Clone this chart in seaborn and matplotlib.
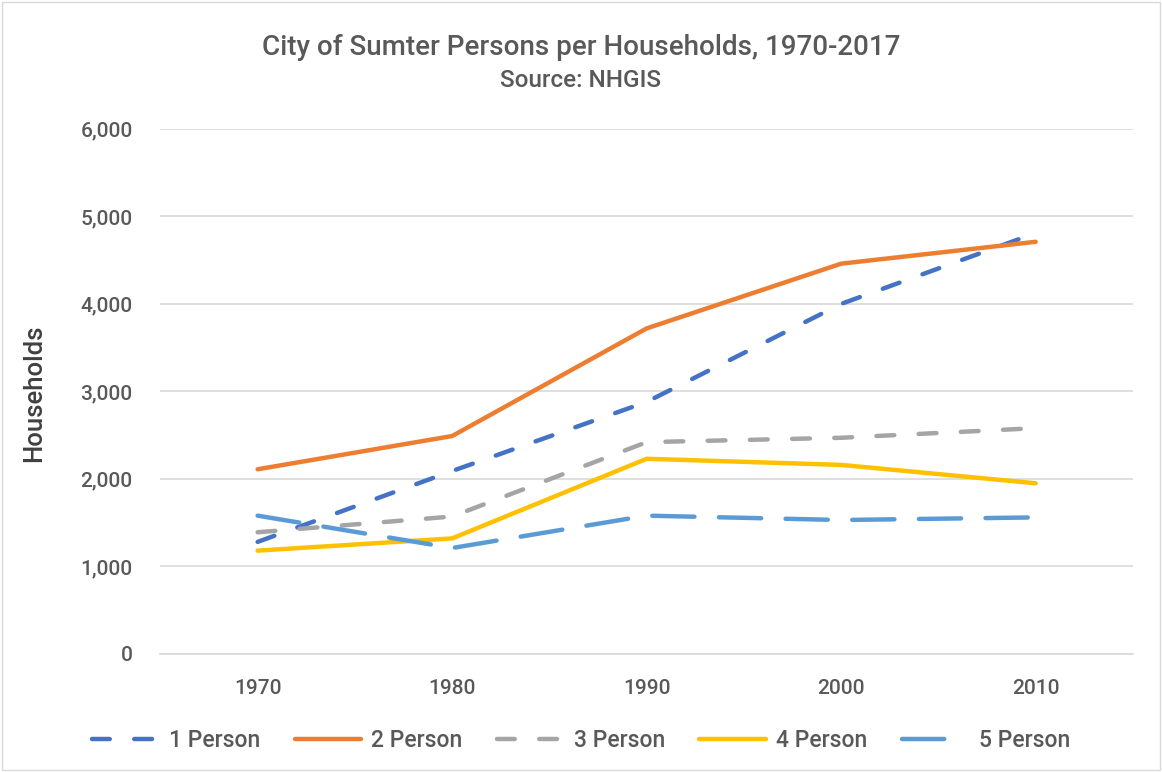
import pandas as pd
import matplotlib.pyplot as plt
import seaborn as sns

years = [1970, 1980, 1990, 2000, 2010]
one_person = [1280, 2090, 2880, 4000, 4810]
two_person = [2110, 2490, 3720, 4460, 4710]
three_person = [1390, 1570, 2420, 2470, 2580]
four_person = [1180, 1320, 2230, 2160, 1950]
five_person = [1580, 1210, 1580, 1530, 1560]
series_names = ['1 Person', '2 Person', '3 Person', '4 Person', '5 Person']

df = pd.DataFrame({'Year': years, '1 Person': one_person, '2 Person': two_person,
                   '3 Person': three_person, '4 Person': four_person, '5 Person': five_person})
df = pd.melt(df, id_vars=['Year'], value_vars=series_names, var_name='Size', value_name='Households')
df['Year'] = df['Year'].astype(str)

colors = {'1 Person': '#4472C4', '2 Person': '#ED7D31', '3 Person': '#A5A5A5',
          '4 Person': '#FFC000', '5 Person': '#5B9BD5'}
dashes = {'1 Person': (4, 5.5), '2 Person': '', '3 Person': (4, 5.5),
          '4 Person': '', '5 Person': (9.5, 5.5)}

sns.set_theme(style='white')
plt.rcParams['font.family'] = ['Roboto', 'DejaVu Sans']
text_color = '#595959'

fig, ax = plt.subplots(figsize=(11.62, 7.72), dpi=100)
fig.subplots_adjust(left=0.138, right=0.975, top=0.833, bottom=0.153)

sns.lineplot(data=df, x='Year', y='Households', hue='Size', style='Size',
             palette=colors, dashes=dashes, linewidth=3.2, ax=ax, sort=False)
for line in ax.get_lines():
    line.set_dash_capstyle('round')
    line.set_solid_capstyle('round')

ax.set_ylim(0, 6000)
ax.set_xlim(-0.5, 4.5)
ax.set_yticks(range(0, 6001, 1000))
ax.set_yticklabels([f'{v:,}' for v in range(0, 6001, 1000)])
ax.yaxis.grid(True, color='#D9D9D9', linewidth=1.2)
ax.set_axisbelow(True)
for side in ['top', 'right', 'left']:
    ax.spines[side].set_visible(False)
ax.spines['bottom'].set_color('#D9D9D9')
ax.spines['bottom'].set_linewidth(1.2)
ax.tick_params(axis='both', length=0, labelsize=15, colors=text_color)
ax.tick_params(axis='x', pad=18)
ax.tick_params(axis='y', pad=20)
for lab in ax.get_xticklabels() + ax.get_yticklabels():
    lab.set_fontweight('medium')
ax.set_xlabel('')
ax.set_ylabel('Households', fontsize=18.5, color='#404040', fontweight='medium')
ax.yaxis.set_label_coords(0.040, 0.491, transform=fig.transFigure)

fig.text(0.5, 0.939, 'City of Sumter Persons per Households, 1970-2017', ha='center', va='center',
         fontsize=20, color=text_color, fontweight='medium')
fig.text(0.5, 0.896, 'Source: NHGIS', ha='center', va='center', fontsize=17.5,
         color=text_color, fontweight='medium')

handles, labels = ax.get_legend_handles_labels()
leg = ax.legend(handles, labels, loc='center', bbox_to_anchor=(0.5, 0.041),
                bbox_transform=fig.transFigure, ncol=5, frameon=False,
                prop={'size': 16.5, 'weight': 'medium'}, handlelength=2.9,
                handletextpad=0.45, columnspacing=1.5, labelcolor=text_color)

fig.patches.append(plt.Rectangle((0.002, 0.002), 0.996, 0.996, transform=fig.transFigure,
                                 fill=False, edgecolor='#D9D9D9', linewidth=1))
fig.savefig('out.png', dpi=100)
